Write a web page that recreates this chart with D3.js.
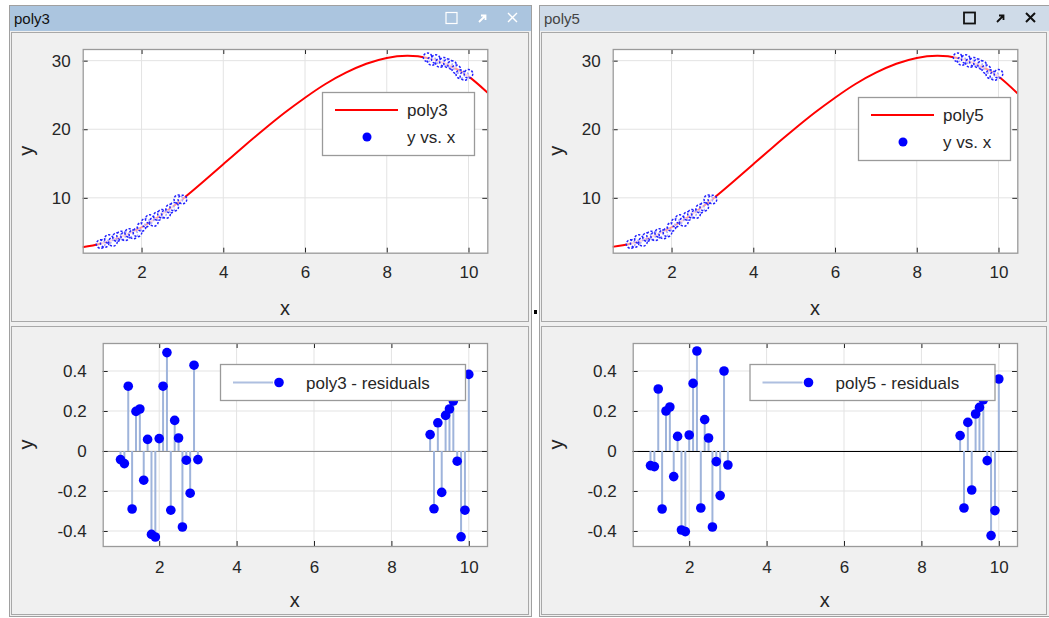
<!DOCTYPE html>
<html><head><meta charset="utf-8">
<script src="https://cdn.jsdelivr.net/npm/d3@7"></script>
<style>
html,body{margin:0;padding:0;background:#fff;}
svg{display:block;}
text{font-family:"Liberation Sans","Noto Sans",Arial,sans-serif;}
</style></head>
<body>
<svg id="c" width="1049" height="618"></svg>
<script>
// ---------- data ----------
const xData = [1.0,1.1,1.2,1.3,1.4,1.5,1.6,1.7,1.8,1.9,2.0,2.1,2.2,2.3,2.4,2.5,2.6,2.7,2.8,2.9,3.0,
               9.0,9.1,9.2,9.3,9.4,9.5,9.6,9.7,9.8,9.9,10.0];
const yData = [3.26,3.42,3.99,3.58,4.28,4.51,4.40,4.87,4.67,4.96,5.76,6.37,6.90,6.49,7.34,7.67,7.65,8.42,8.71,9.79,9.76,
               30.48,29.96,30.22,29.67,29.83,29.61,29.35,28.75,28.02,27.78,28.08];
const resid3 = [-0.043,-0.063,0.324,-0.29,0.198,0.21,-0.146,0.058,-0.417,-0.43,0.062,0.324,0.492,-0.296,0.153,0.065,-0.38,-0.046,-0.211,0.429,-0.043,
                0.082,-0.289,0.141,-0.207,0.178,0.21,0.25,-0.051,-0.429,-0.296,0.383];
const resid5 = [-0.073,-0.078,0.31,-0.29,0.2,0.22,-0.128,0.073,-0.395,-0.403,0.08,0.338,0.5,-0.285,0.157,0.065,-0.38,-0.053,-0.223,0.40,-0.07,
                0.077,-0.285,0.143,-0.195,0.185,0.218,0.256,-0.048,-0.423,-0.298,0.36];
const fitX = [0.55,1,1.5,2,2.5,3,3.5,4,4.5,5,5.5,6,6.5,7,7.5,8,8.5,9,9.5,10,10.47];
const fit3 = [2.8,3.3,4.3,5.7,7.6,9.8,12.3,14.9,17.5,20.0,22.4,24.6,26.6,28.25,29.55,30.4,30.7,30.4,29.4,27.7,25.3];
const fit5 = [2.85,3.3,4.28,5.7,7.6,9.8,12.3,14.9,17.5,20.0,22.4,24.6,26.6,28.25,29.55,30.4,30.7,30.4,29.4,27.7,25.2];
const xTicks = [2,4,6,8,10];
const yTicksTop = [10,20,30];
const yTicksBottom = [-0.4,-0.2,0,0.2,0.4];
const panelNames = ["poly3","poly5"];

// ---------- drawing ----------
const svg = d3.select("#c");
const tickFont = 17, labelFont = 20;

function panelFrame(x0, w, name, active){
  const g = svg.append("g");
  g.append("rect").attr("x",x0+0.5).attr("y",5.5).attr("width",w).attr("height",611)
    .attr("fill","#f0f0f0").attr("stroke","#a0a0a0");
  g.append("rect").attr("x",x0+1).attr("y",6).attr("width",w-1).attr("height",25)
    .attr("fill", active ? "#abc5df" : "#cfdbe8");
  g.append("text").attr("x",x0+5).attr("y",24).attr("font-size",15)
    .attr("fill", active ? "#111" : "#444").text(name);
  g.append("rect").attr("x",x0+2.5).attr("y",32.5).attr("width",w-5).attr("height",289)
    .attr("fill","none").attr("stroke","#a8a8a8");
  g.append("rect").attr("x",x0+2.5).attr("y",326.5).attr("width",w-5).attr("height",288)
    .attr("fill","none").attr("stroke","#a8a8a8");
  const ic = active ? "#ffffff" : "#111111";
  const ix = x0 + w;
  g.append("rect").attr("x",ix-85).attr("y",12.5).attr("width",11).attr("height",11)
    .attr("fill","none").attr("stroke",ic).attr("stroke-width",active?1.2:1.8);
  g.append("path").attr("d",`M${ix-52},22 L${ix-46},16 M${ix-50},15.5 L${ix-45.5},15.5 L${ix-45.5},20`)
    .attr("fill","none").attr("stroke",ic).attr("stroke-width",1.8);
  g.append("path").attr("d",`M${ix-23},13 L${ix-14},22 M${ix-14},13 L${ix-23},22`)
    .attr("fill","none").attr("stroke",ic).attr("stroke-width",active?1.4:2);
}

function axesBox(g, xs, ys, yTicks, w, h){
  g.append("rect").attr("width",w).attr("height",h).attr("fill","#fff");
  g.append("g").selectAll("line").data(xTicks).join("line")
    .attr("x1",d=>xs(d)).attr("x2",d=>xs(d)).attr("y1",0).attr("y2",h)
    .attr("stroke","#e3e3e3").attr("stroke-width",1);
  g.append("g").selectAll("line").data(yTicks).join("line")
    .attr("x1",0).attr("x2",w).attr("y1",d=>ys(d)).attr("y2",d=>ys(d))
    .attr("stroke","#e3e3e3").attr("stroke-width",1);
}

function axesFront(g, xs, ys, yTicks, yFmt, w, h, xPad, yPad){
  const ax = d3.axisBottom(xs).tickValues(xTicks).tickSizeInner(-5).tickSizeOuter(0).tickPadding(xPad)
    .tickFormat(d3.format("d"));
  const axT = d3.axisTop(xs).tickValues(xTicks).tickSizeInner(-5).tickSizeOuter(0).tickFormat("");
  const ay = d3.axisLeft(ys).tickValues(yTicks).tickSizeInner(-5).tickSizeOuter(0).tickPadding(yPad)
    .tickFormat(yFmt);
  const ayR = d3.axisRight(ys).tickValues(yTicks).tickSizeInner(-5).tickSizeOuter(0).tickFormat("");
  const style = s => {
    s.select(".domain").remove();
    s.selectAll("line").attr("stroke","#262626");
    s.selectAll("text").attr("font-size",tickFont).attr("fill","#262626")
      .attr("font-family",'"Liberation Sans","Noto Sans",Arial,sans-serif');
  };
  g.append("g").attr("transform",`translate(0,${h})`).call(ax).call(style);
  g.append("g").call(axT).call(style);
  g.append("g").call(ay).call(style);
  g.append("g").attr("transform",`translate(${w},0)`).call(ayR).call(style);
  g.append("rect").attr("x",0.5).attr("y",0.5).attr("width",w).attr("height",h)
    .attr("fill","none").attr("stroke","#9a9a9a").attr("stroke-width",1.3);
}

function labels(g, w, h, xLabY, yLabX){
  g.append("text").attr("x",w/2).attr("y",xLabY).attr("text-anchor","middle")
    .attr("font-size",labelFont).attr("fill","#262626").text("x");
  g.append("text").attr("transform",`translate(${yLabX},${h/2}) rotate(-90)`)
    .attr("text-anchor","middle").attr("font-size",labelFont).attr("fill","#262626").text("y");
}

function topPlot(offX, fit, name){
  const L = 82.7+offX, T = 49, W = 404.6, H = 203.7;
  const xs = d3.scaleLinear().domain([0.56,10.46]).range([0,W]);
  const ys = d3.scaleLinear().domain([2.0,31.7]).range([H,0]);
  const g = svg.append("g").attr("transform",`translate(${L},${T})`);
  axesBox(g, xs, ys, yTicksTop, W, H);
  const clip = "clipT"+offX;
  g.append("clipPath").attr("id",clip).append("rect").attr("width",W).attr("height",H);
  const line = d3.line().x((d,i)=>xs(fitX[i])).y(d=>ys(d)).curve(d3.curveNatural);
  g.append("path").datum(fit).attr("d",line).attr("fill","none").attr("stroke","#ff0000")
    .attr("stroke-width",2).attr("clip-path",`url(#${clip})`);
  g.append("g").selectAll("circle").data(yData).join("circle")
    .attr("cx",(d,i)=>xs(xData[i])).attr("cy",d=>ys(d)).attr("r",4.3)
    .attr("fill","#ffffff").attr("fill-opacity",0.6)
    .attr("stroke","#2020ff").attr("stroke-width",1.5).attr("stroke-dasharray","2.2 1.6");
  axesFront(g, xs, ys, yTicksTop, d3.format("d"), W, H, 13, 12);
  labels(g, W, H, 266, -50);
  const lx = (offX ? 858 : 322) - L, ly = (offX ? 97 : 92) - T;
  const lg = g.append("g").attr("transform",`translate(${lx},${ly})`);
  lg.append("rect").attr("x",0.5).attr("y",0.5).attr("width",152).attr("height",63)
    .attr("fill","#fff").attr("stroke","#9a9a9a").attr("stroke-width",1.3);
  lg.append("line").attr("x1",13).attr("x2",76).attr("y1",18).attr("y2",18)
    .attr("stroke","#ff0000").attr("stroke-width",2.2);
  lg.append("circle").attr("cx",45).attr("cy",45).attr("r",4.5).attr("fill","#0000ff");
  lg.append("text").attr("x",85).attr("y",24).attr("font-size",17).attr("fill","#262626").text(name);
  lg.append("text").attr("x",85).attr("y",51).attr("font-size",17).attr("fill","#262626").text("y vs. x");
}

function bottomPlot(offX, resid, name, zeroDark){
  const L = 102.7+offX, T = 343, W = 384.3, H = 203;
  const xs = d3.scaleLinear().domain([0.54,10.47]).range([0,W]);
  const ys = d3.scaleLinear().domain([-0.475,0.54]).range([H,0]);
  const g = svg.append("g").attr("transform",`translate(${L},${T})`);
  axesBox(g, xs, ys, yTicksBottom, W, H);
  g.append("line").attr("x1",0).attr("x2",W).attr("y1",Math.round(ys(0))+0.5).attr("y2",Math.round(ys(0))+0.5)
    .attr("stroke", zeroDark ? "#000" : "#8c8c8c").attr("stroke-width",1.2);
  g.append("g").selectAll("line").data(resid).join("line")
    .attr("x1",(d,i)=>xs(xData[i])).attr("x2",(d,i)=>xs(xData[i]))
    .attr("y1",ys(0)).attr("y2",d=>ys(d))
    .attr("stroke","#9fb4db").attr("stroke-width",2);
  g.append("g").selectAll("circle").data(resid).join("circle")
    .attr("cx",(d,i)=>xs(xData[i])).attr("cy",d=>ys(d)).attr("r",4.8)
    .attr("fill","#0000ff");
  const fmt = d => d===0 ? "0" : d3.format(".1f")(d).replace("−","-");
  axesFront(g, xs, ys, yTicksBottom, fmt, W, H, 15, 16);
  labels(g, W, H, 264, -70);
  const lx = (offX ? 749.5 : 220) - L, ly = 364 - T;
  const lg = g.append("g").attr("transform",`translate(${lx},${ly})`);
  lg.append("rect").attr("x",0.5).attr("y",0.5).attr("width",245).attr("height",36)
    .attr("fill","#fff").attr("stroke","#9a9a9a").attr("stroke-width",1.3);
  lg.append("line").attr("x1",13).attr("x2",53).attr("y1",18.5).attr("y2",18.5)
    .attr("stroke","#aebfe0").attr("stroke-width",2);
  lg.append("circle").attr("cx",59).attr("cy",18.5).attr("r",4.8).attr("fill","#0000ff");
  lg.append("text").attr("x",86).attr("y",25).attr("font-size",17).attr("fill","#262626").text(name+" - residuals");
}

panelFrame(9, 522, panelNames[0], true);
panelFrame(539, 510, panelNames[1], false);
svg.append("rect").attr("x",534).attr("y",310).attr("width",3).attr("height",4).attr("fill","#000");

topPlot(0, fit3, panelNames[0]);
topPlot(530, fit5, panelNames[1]);
bottomPlot(0, resid3, panelNames[0], false);
bottomPlot(530, resid5, panelNames[1], true);
</script>
</body></html>
